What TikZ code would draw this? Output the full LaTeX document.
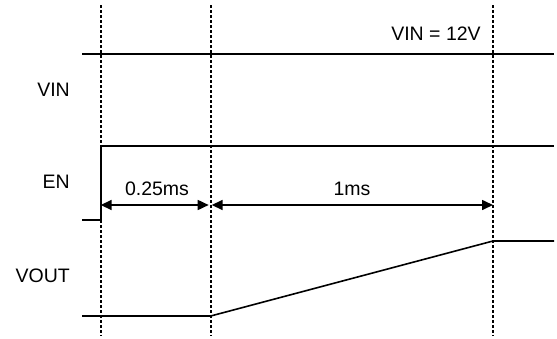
\documentclass[tikz,border=0pt]{standalone}
\usepackage{fontspec}
\setmainfont{Liberation Sans}
\usetikzlibrary{arrows.meta}
\begin{document}
\begin{tikzpicture}[x=1pt,y=-1pt,
  wave/.style={line width=1.6pt, line join=miter},
  marker/.style={line width=2pt, dash pattern=on 3pt off 2pt},
  dim/.style={line width=1.6pt, {Triangle[length=11pt,width=10pt]}-{Triangle[length=11pt,width=10pt]}},
  lbl/.style={font=\fontsize{19.5}{19.5}\selectfont, inner sep=0pt},
  sig/.style={lbl, anchor=east}]
\useasboundingbox (0,0) rectangle (557,338);
% marker lines
\coordinate (m1t) at (100.7,5);  \coordinate (m1b) at (100.7,336);
\coordinate (m2t) at (210.7,5);  \coordinate (m2b) at (210.7,336);
\coordinate (m3t) at (493,5);    \coordinate (m3b) at (493,336);
\draw[marker] (m1t) -- (m1b);
\draw[marker] (m2t) -- (m2b);
\draw[marker] (m3t) -- (m3b);
% VIN
\coordinate (vinA) at (82,54); \coordinate (vinB) at (554,54);
\draw[wave] (vinA) -- (vinB);
% EN
\coordinate (enA) at (82,220); \coordinate (enB) at (100.7,220);
\coordinate (enC) at (100.7,146); \coordinate (enD) at (554,146);
\draw[wave] (enA) -- (enB) -- (enC) -- (enD);
% VOUT
\coordinate (voA) at (82,316); \coordinate (voB) at (210.7,316);
\coordinate (voC) at (493,241); \coordinate (voD) at (554,241);
\draw[wave] (voA) -- (voB) -- (voC) -- (voD);
% dimension arrows
\coordinate (d1) at (100.7,205); \coordinate (d2) at (210.7,205); \coordinate (d3) at (493,205);
\draw[dim, shorten >=2pt] (d1) -- (d2);
\draw[dim, shorten <=1pt] (d2) -- (d3);
% labels
\node[sig] (lvin) at (70,90) {VIN};
\node[sig] (len) at (70,182) {EN};
\node[sig] (lvout) at (70,276) {VOUT};
\node[lbl] (l12) at (436,34) {VIN = 12V};
\node[lbl] (lt1) at (157,189) {0.25ms};
\node[lbl] (lt2) at (352,189) {1ms};
\end{tikzpicture}
\end{document}
